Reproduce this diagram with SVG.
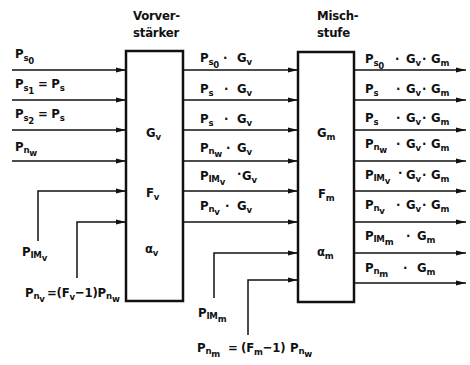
<svg xmlns="http://www.w3.org/2000/svg" width="470" height="365" viewBox="0 0 470 365">
<defs>
<marker id="ah" markerUnits="userSpaceOnUse" markerWidth="10" markerHeight="6" refX="10" refY="3" orient="auto">
<path d="M0,0.6 L10,3 L0,5.4 z" fill="#111"/>
</marker>
<style>
.t{font-family:"Liberation Sans Narrow","DejaVu Sans Condensed","Arial Narrow",sans-serif;font-weight:bold;font-size:13px;letter-spacing:-0.2px;fill:#111}
.a{font-size:9.5px}
.box{fill:#fff;stroke:#111;stroke-width:2.5}
.c path{fill:none;stroke:#111;stroke-width:1.5;marker-end:url(#ah)}
</style>
</defs>
<rect width="470" height="365" fill="#fff"/>

<g id="vorverstaerker">
<rect class="box" x="126" y="51" width="57" height="250"/>
<text class="t" x="133" y="20">Vorver-</text>
<text class="t" x="133" y="37">stärker</text>
<text class="t" x="146" y="137">G<tspan class="a" dy="3">v</tspan></text>
<text class="t" x="146" y="197">F<tspan class="a" dy="3">v</tspan></text>
<text class="t" x="145" y="253">α<tspan class="a" dy="3">v</tspan></text>
</g>

<g id="mischstufe">
<rect class="box" x="298" y="52" width="56" height="250"/>
<text class="t" x="317" y="20">Misch-</text>
<text class="t" x="317" y="37">stufe</text>
<text class="t" x="317" y="137">G<tspan class="a" dy="3">m</tspan></text>
<text class="t" x="318" y="198">F<tspan class="a" dy="3">m</tspan></text>
<text class="t" x="317" y="256">α<tspan class="a" dy="3">m</tspan></text>
</g>

<g id="connectors" class="c">
<path d="M12,70 H126"/>
<path d="M12,100 H126"/>
<path d="M12,130 H126"/>
<path d="M12,161 H126"/>
<path d="M38,241 V191 H126"/>
<path d="M77,278 V222 H126"/>
<path d="M183,70 H298"/>
<path d="M183,100 H298"/>
<path d="M183,130 H298"/>
<path d="M183,161 H298"/>
<path d="M183,191 H298"/>
<path d="M183,222 H298"/>
<path d="M214,298 V253 H298"/>
<path d="M248,335 V280 H298"/>
<path d="M354,70 H466"/>
<path d="M354,100 H466"/>
<path d="M354,130 H466"/>
<path d="M354,161 H466"/>
<path d="M354,191 H466"/>
<path d="M354,222 H466"/>
<path d="M354,253 H466"/>
<path d="M354,283 H466"/>
</g>

<g id="input-labels">
<text class="t" x="15" y="58">P<tspan class="a" dy="3">s</tspan><tspan class="a" dy="3">0</tspan></text>
<text class="t" x="15" y="88">P<tspan class="a" dy="3">s</tspan><tspan class="a" dy="3">1</tspan><tspan dy="-6"> = P</tspan><tspan class="a" dy="3">s</tspan></text>
<text class="t" x="15" y="118">P<tspan class="a" dy="3">s</tspan><tspan class="a" dy="3">2</tspan><tspan dy="-6"> = P</tspan><tspan class="a" dy="3">s</tspan></text>
<text class="t" x="15" y="151">P<tspan class="a" dy="2">n</tspan><tspan class="a" dy="3">w</tspan></text>
<text class="t" x="22" y="256">P<tspan class="a" dy="2">IM</tspan><tspan class="a" dy="3">v</tspan></text>
<text class="t" x="25" y="297">P<tspan class="a" dy="2">n</tspan><tspan class="a" dy="3">v</tspan><tspan x="47" dy="-5">=(F</tspan><tspan class="a" dy="3">v</tspan><tspan dy="-3">−1)P</tspan><tspan class="a" dy="2">n</tspan><tspan class="a" dy="3">w</tspan></text>
<text class="t" x="198" y="317">P<tspan class="a" dy="2">IM</tspan><tspan class="a" dy="3">m</tspan></text>
<text class="t" x="197" y="352">P<tspan class="a" dy="2">n</tspan><tspan class="a" dy="3">m</tspan><tspan x="228" dy="-5">=</tspan><tspan x="241">(F</tspan><tspan class="a" dy="3">m</tspan><tspan dy="-3">−1)</tspan><tspan x="290">P</tspan><tspan class="a" dy="2">n</tspan><tspan class="a" dy="3">w</tspan></text>
</g>

<g id="middle-labels">
<text class="t" x="200" y="62">P<tspan class="a" dy="3">s</tspan><tspan class="a" dy="3">0</tspan><tspan x="223" dy="-6">·</tspan><tspan x="237">G</tspan><tspan class="a" dy="3">v</tspan></text>
<text class="t" x="200" y="93">P<tspan class="a" dy="3">s</tspan><tspan x="224" dy="-3">·</tspan><tspan x="237">G</tspan><tspan class="a" dy="3">v</tspan></text>
<text class="t" x="200" y="123">P<tspan class="a" dy="3">s</tspan><tspan x="224" dy="-3">·</tspan><tspan x="237">G</tspan><tspan class="a" dy="3">v</tspan></text>
<text class="t" x="200" y="152">P<tspan class="a" dy="2">n</tspan><tspan class="a" dy="3">w</tspan><tspan x="226" dy="-5">·</tspan><tspan x="237">G</tspan><tspan class="a" dy="3">v</tspan></text>
<text class="t" x="200" y="180">P<tspan class="a" dy="2">IM</tspan><tspan class="a" dy="3">v</tspan><tspan x="237" dy="-7">·</tspan><tspan x="242" dy="2">G</tspan><tspan class="a" dy="3">v</tspan></text>
<text class="t" x="200" y="210">P<tspan class="a" dy="2">n</tspan><tspan class="a" dy="3">v</tspan><tspan x="225" dy="-5">·</tspan><tspan x="237">G</tspan><tspan class="a" dy="3">v</tspan></text>
</g>

<g id="output-labels">
<text class="t" x="365" y="63">P<tspan class="a" dy="3">s</tspan><tspan class="a" dy="3">0</tspan><tspan x="395" dy="-6">·</tspan><tspan x="406">G</tspan><tspan class="a" dy="3">v</tspan><tspan x="422" dy="-3">·</tspan><tspan x="431">G</tspan><tspan class="a" dy="3">m</tspan></text>
<text class="t" x="365" y="93">P<tspan class="a" dy="3">s</tspan><tspan x="396" dy="-3">·</tspan><tspan x="406">G</tspan><tspan class="a" dy="3">v</tspan><tspan x="422" dy="-3">·</tspan><tspan x="431">G</tspan><tspan class="a" dy="3">m</tspan></text>
<text class="t" x="365" y="122">P<tspan class="a" dy="3">s</tspan><tspan x="396" dy="-3">·</tspan><tspan x="406">G</tspan><tspan class="a" dy="3">v</tspan><tspan x="422" dy="-3">·</tspan><tspan x="431">G</tspan><tspan class="a" dy="3">m</tspan></text>
<text class="t" x="365" y="148">P<tspan class="a" dy="2">n</tspan><tspan class="a" dy="3">w</tspan><tspan x="396" dy="-5">·</tspan><tspan x="406">G</tspan><tspan class="a" dy="3">v</tspan><tspan x="422" dy="-3">·</tspan><tspan x="431">G</tspan><tspan class="a" dy="3">m</tspan></text>
<text class="t" x="365" y="179">P<tspan class="a" dy="2">IM</tspan><tspan class="a" dy="3">v</tspan><tspan x="398" dy="-7">·</tspan><tspan x="406" dy="2">G</tspan><tspan class="a" dy="3">v</tspan><tspan x="422" dy="-3">·</tspan><tspan x="431">G</tspan><tspan class="a" dy="3">m</tspan></text>
<text class="t" x="365" y="209">P<tspan class="a" dy="2">n</tspan><tspan class="a" dy="3">v</tspan><tspan x="396" dy="-5">·</tspan><tspan x="406">G</tspan><tspan class="a" dy="3">v</tspan><tspan x="422" dy="-3">·</tspan><tspan x="431">G</tspan><tspan class="a" dy="3">m</tspan></text>
<text class="t" x="365" y="240">P<tspan class="a" dy="2">IM</tspan><tspan class="a" dy="3">m</tspan><tspan x="406" dy="-5">·</tspan><tspan x="417">G</tspan><tspan class="a" dy="3">m</tspan></text>
<text class="t" x="365" y="272">P<tspan class="a" dy="2">n</tspan><tspan class="a" dy="3">m</tspan><tspan x="403" dy="-5">·</tspan><tspan x="417">G</tspan><tspan class="a" dy="3">m</tspan></text>
</g>
</svg>
